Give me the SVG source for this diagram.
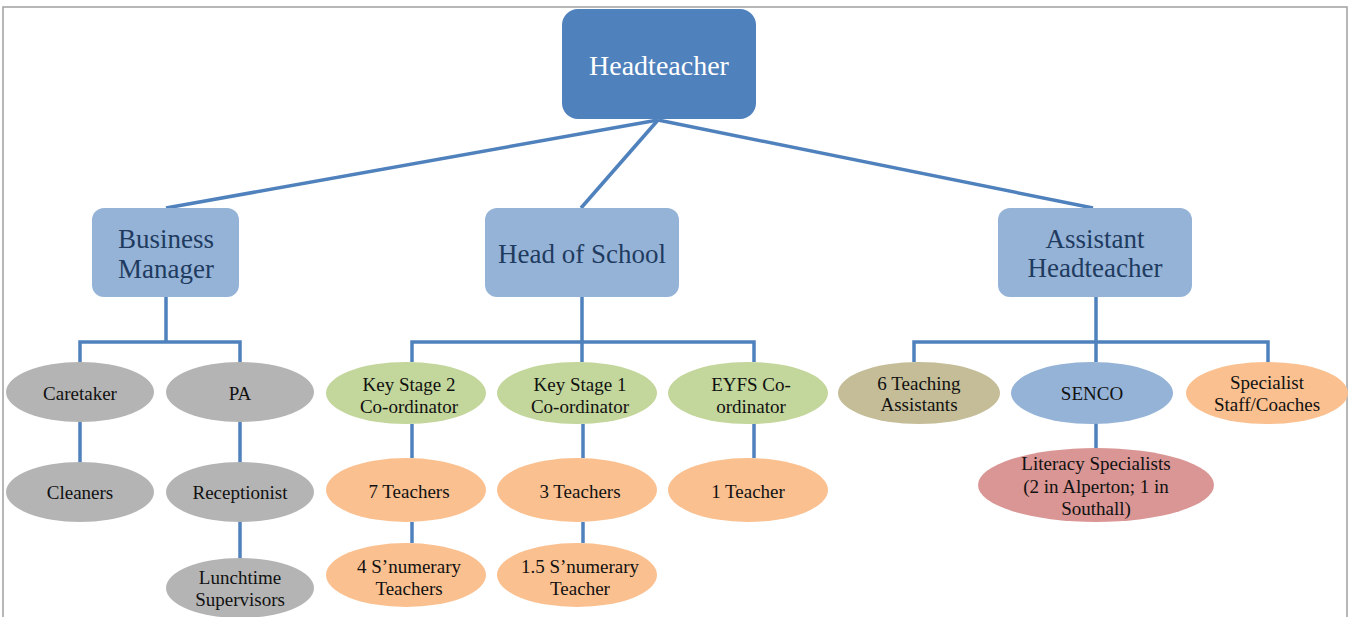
<svg xmlns="http://www.w3.org/2000/svg" width="1350" height="617" viewBox="0 0 1350 617">
<style>
.frame{fill:none;stroke:#A0A0A0;stroke-width:1.5}
.conn line,.conn path{stroke:#4F81BD;stroke-width:3.5;fill:none}
.top{fill:#4F81BD}
.box{fill:#95B3D7}
.t1{font-family:"Liberation Serif",serif;font-size:28px;fill:#FFFFFF;text-anchor:middle}
.t2{font-family:"Liberation Serif",serif;font-size:27px;fill:#1F3B60;text-anchor:middle}
.t3{font-family:"Liberation Serif",serif;font-size:19px;fill:#111111;text-anchor:middle}
.gray{fill:#B4B4B4}
.green{fill:#C3D69B}
.orange{fill:#FAC090}
.tan{fill:#C4BD97}
.blue{fill:#95B3D7}
.rose{fill:#D99694}
</style>
<rect width="1350" height="617" fill="#FFFFFF"/>
<path class="frame" d="M3,617 V7 H1347 V617"/>
<g id="connectors" class="conn">
<line x1="658" y1="120" x2="166" y2="208"/>
<line x1="658" y1="120" x2="581" y2="208"/>
<line x1="658" y1="120" x2="1093" y2="208"/>
<path d="M166,297 V342 M80,362 V342 H240 V362"/>
<line x1="80" y1="422" x2="80" y2="462"/>
<line x1="240" y1="422" x2="240" y2="462"/>
<line x1="240" y1="522" x2="240" y2="558"/>
<path d="M582,297 V362 M412,362 V342 H754 V362"/>
<line x1="412" y1="424" x2="412" y2="458"/>
<line x1="583" y1="424" x2="583" y2="458"/>
<line x1="754" y1="424" x2="754" y2="458"/>
<line x1="412" y1="522" x2="412" y2="543"/>
<line x1="583" y1="522" x2="583" y2="543"/>
<path d="M1096,297 V362 M914,362 V342 H1268 V362"/>
<line x1="1096" y1="423" x2="1096" y2="448"/>
</g>
<g id="headteacher">
<rect class="top" x="562" y="9" width="194" height="110" rx="16"/>
<text class="t1" x="659" y="75">Headteacher</text>
</g>
<g id="business-manager">
<rect class="box" x="92" y="208" width="147" height="89" rx="12"/>
<text class="t2" x="166" y="248">Business</text>
<text class="t2" x="166" y="278">Manager</text>
</g>
<g id="head-of-school">
<rect class="box" x="485" y="208" width="194" height="89" rx="12"/>
<text class="t2" x="582" y="263">Head of School</text>
</g>
<g id="assistant-headteacher">
<rect class="box" x="998" y="208" width="194" height="89" rx="12"/>
<text class="t2" x="1095" y="248">Assistant</text>
<text class="t2" x="1095" y="277">Headteacher</text>
</g>
<g id="caretaker">
<ellipse class="gray" cx="80" cy="392" rx="74" ry="30"/>
<text class="t3" x="80" y="400">Caretaker</text>
</g>
<g id="pa">
<ellipse class="gray" cx="240" cy="392" rx="74" ry="30"/>
<text class="t3" x="240" y="400">PA</text>
</g>
<g id="cleaners">
<ellipse class="gray" cx="80" cy="492" rx="74" ry="30"/>
<text class="t3" x="80" y="499">Cleaners</text>
</g>
<g id="receptionist">
<ellipse class="gray" cx="240" cy="492" rx="74" ry="30"/>
<text class="t3" x="240" y="499">Receptionist</text>
</g>
<g id="lunchtime-supervisors">
<ellipse class="gray" cx="240" cy="588" rx="74" ry="30"/>
<text class="t3" x="240" y="584">Lunchtime</text>
<text class="t3" x="240" y="606">Supervisors</text>
</g>
<g id="ks2">
<ellipse class="green" cx="406" cy="393" rx="80" ry="31"/>
<text class="t3" x="409" y="391">Key Stage 2</text>
<text class="t3" x="409" y="413">Co-ordinator</text>
</g>
<g id="ks1">
<ellipse class="green" cx="577" cy="393" rx="80" ry="31"/>
<text class="t3" x="580" y="391">Key Stage 1</text>
<text class="t3" x="580" y="413">Co-ordinator</text>
</g>
<g id="eyfs">
<ellipse class="green" cx="748" cy="393" rx="80" ry="31"/>
<text class="t3" x="751" y="391">EYFS Co-</text>
<text class="t3" x="751" y="413">ordinator</text>
</g>
<g id="teachers7">
<ellipse class="orange" cx="406" cy="490" rx="80" ry="32"/>
<text class="t3" x="409" y="498">7 Teachers</text>
</g>
<g id="teachers3">
<ellipse class="orange" cx="577" cy="490" rx="80" ry="32"/>
<text class="t3" x="580" y="498">3 Teachers</text>
</g>
<g id="teacher1">
<ellipse class="orange" cx="748" cy="490" rx="80" ry="32"/>
<text class="t3" x="748" y="498">1 Teacher</text>
</g>
<g id="snumerary4">
<ellipse class="orange" cx="406" cy="575" rx="80" ry="32"/>
<text class="t3" x="409" y="573">4 S’numerary</text>
<text class="t3" x="409" y="595">Teachers</text>
</g>
<g id="snumerary15">
<ellipse class="orange" cx="577" cy="575" rx="80" ry="32"/>
<text class="t3" x="580" y="573">1.5 S’numerary</text>
<text class="t3" x="580" y="595">Teacher</text>
</g>
<g id="teaching-assistants">
<ellipse class="tan" cx="919" cy="393" rx="81" ry="31"/>
<text class="t3" x="919" y="390">6 Teaching</text>
<text class="t3" x="919" y="411">Assistants</text>
</g>
<g id="senco">
<ellipse class="blue" cx="1092" cy="393" rx="81" ry="31"/>
<text class="t3" x="1092" y="400">SENCO</text>
</g>
<g id="specialist">
<ellipse class="orange" cx="1267" cy="393" rx="81" ry="31"/>
<text class="t3" x="1267" y="389">Specialist</text>
<text class="t3" x="1267" y="411">Staff/Coaches</text>
</g>
<g id="literacy">
<ellipse class="rose" cx="1096" cy="485" rx="118" ry="37"/>
<text class="t3" x="1096" y="470">Literacy Specialists</text>
<text class="t3" x="1096" y="493">(2 in Alperton; 1 in</text>
<text class="t3" x="1096" y="515">Southall)</text>
</g>
</svg>
